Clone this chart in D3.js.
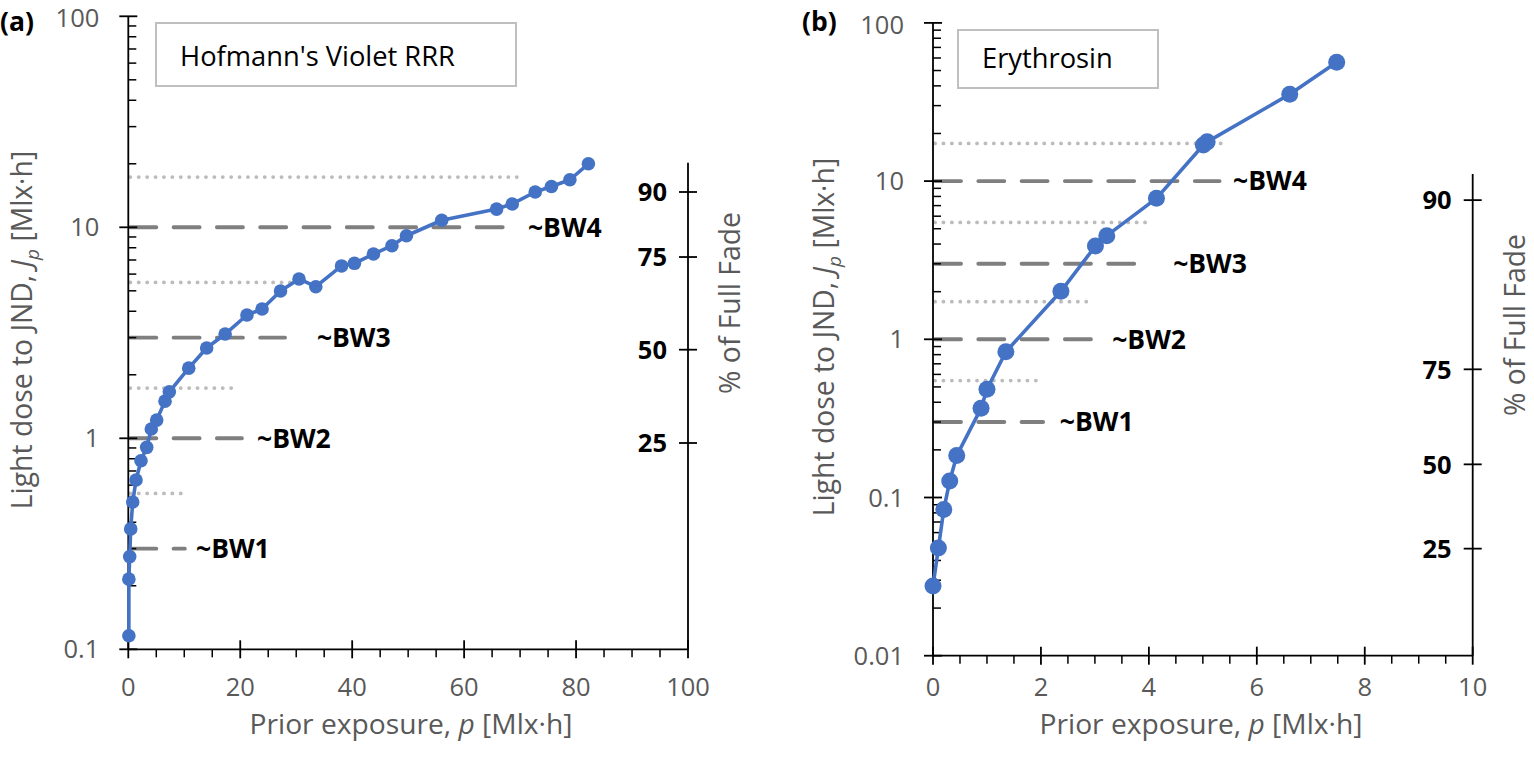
<!DOCTYPE html>
<html><head><meta charset="utf-8">
<script src="https://cdn.jsdelivr.net/npm/d3@7"></script>
<style>
body{margin:0;background:#fff;}
svg{display:block;}
text{font-family:'Open Sans','Noto Sans',sans-serif;}
</style>
</head><body>
<svg id="chart" width="1534" height="767"></svg>
<script>
// ---------- data ----------
const pA = [0.1,0.1,0.25,0.43,0.79,1.38,2.27,3.29,4.11,5.07,6.56,7.33,10.8,14.0,17.3,21.2,23.9,27.2,30.5,33.5,38.1,40.4,43.8,47.1,49.7,56.0,65.8,68.6,72.7,75.6,78.9,82.2];
const jA = [0.116,0.215,0.275,0.372,0.499,0.634,0.783,0.906,1.107,1.22,1.50,1.66,2.15,2.68,3.12,3.84,4.10,4.99,5.69,5.23,6.56,6.75,7.47,8.18,9.12,10.8,12.2,12.9,14.7,15.6,16.8,20.0];
const pB = [0.0,0.1,0.2,0.31,0.44,0.89,1.0,1.35,2.37,3.01,3.22,4.14,5.01,5.08,6.61,7.48];
const jB = [0.0276,0.048,0.084,0.127,0.184,0.366,0.483,0.835,2.01,3.89,4.52,7.78,16.9,17.7,35.4,56.4];

const bwNames = ["~BW1","~BW2","~BW3","~BW4"];
const bwLevels = [0.3,1,3,10];
const midLevels = [0.548,1.73,5.48,17.3];
const bwEndA = [10.1,20.3,28,69.5];
const midEndA = [10.1,19.6,28.9,70];
const bwLabelAtA = [12.1,23,33.7,71.4];
const bwEndB = [2.04,2.95,4.02,5.31];
const midEndB = [1.93,2.91,3.97,5.41];
const bwLabelAtB = [2.35,3.32,4.45,5.56];

const fadeTicks = [25,50,75,90];
const fadeJA = [0.95,2.63,7.23,14.7];
const fadeJB = [0.0475,0.162,0.646,7.58];

const xTicksA = [0,20,40,60,80,100];
const xTicksB = [0,2,4,6,8,10];
const yTicksA = [0.1,1,10,100];
const yTicksB = [0.01,0.1,1,10,100];

const svg = d3.select("#chart");
const GRAY_TXT = "#595959";
const BLUE = "#4472c4";
const X_LABEL_BASE = 695.8;
const X_TITLE_BASE = 733.6;

function drawPanel(cfg){
  const g = svg.append("g");
  const x = d3.scaleLinear().domain(cfg.xDomain).range([cfg.x0, cfg.x1]);
  const y = d3.scaleLog().domain(cfg.yDomain).range([cfg.yBot, cfg.yTop]);

  // dotted mid-level lines
  g.selectAll(".mid").data(cfg.mid).enter().append("line")
    .attr("x1", x(0)+2).attr("x2", (d,i)=>x(cfg.midEnd[i]))
    .attr("y1", d=>y(d)).attr("y2", d=>y(d))
    .attr("stroke","#bcbcbc").attr("stroke-width",3.8)
    .attr("stroke-linecap","round").attr("stroke-dasharray","0.1,8.3");

  // dashed BW lines
  g.selectAll(".bw").data(cfg.bw).enter().append("line")
    .attr("x1", x(0)+2).attr("x2", (d,i)=>x(cfg.bwEnd[i]))
    .attr("y1", d=>y(d)).attr("y2", d=>y(d))
    .attr("stroke","#7f7f7f").attr("stroke-width",3.9)
    .attr("stroke-linecap","round").attr("stroke-dasharray","26,17.3");

  // BW labels
  g.selectAll(".bwl").data(cfg.bw).enter().append("text")
    .attr("x",(d,i)=>x(cfg.bwLabelAt[i])).attr("y",d=>y(d))
    .attr("dy","0.35em").attr("font-size",26.5).attr("font-weight","bold")
    .attr("fill","#000").text((d,i)=>bwNames[i]);

  // left axis
  g.append("line").attr("x1",cfg.x0).attr("x2",cfg.x0)
    .attr("y1",cfg.yTop).attr("y2",cfg.yBot).attr("stroke","#000").attr("stroke-width",1.8);
  const minor = [];
  for(let k=0;k<cfg.yTicks.length-1;k++){
    for(let m=2;m<=9;m++) minor.push(cfg.yTicks[k]*m);
  }
  g.selectAll(".ymin").data(minor).enter().append("line")
    .attr("x1",cfg.x0).attr("x2",cfg.x0+8).attr("y1",d=>y(d)).attr("y2",d=>y(d))
    .attr("stroke","#000").attr("stroke-width",1.5);
  g.selectAll(".ymaj").data(cfg.yTicks).enter().append("line")
    .attr("x1",cfg.x0-9).attr("x2",cfg.x0+9).attr("y1",d=>y(d)).attr("y2",d=>y(d))
    .attr("stroke","#000").attr("stroke-width",1.8);
  g.selectAll(".ylab").data(cfg.yTicks).enter().append("text")
    .attr("x",cfg.x0-29).attr("y",d=>Math.max(y(d),cfg.yTop+2)).attr("dy","0.36em")
    .attr("text-anchor","end").attr("font-size",25.5).attr("fill",GRAY_TXT)
    .text(d=>String(d));

  // bottom axis
  g.append("line").attr("x1",cfg.x0).attr("x2",cfg.x1)
    .attr("y1",cfg.yBot).attr("y2",cfg.yBot).attr("stroke","#000").attr("stroke-width",1.8);
  const xmin = d3.range(cfg.xDomain[0], cfg.xDomain[1]+1e-9, cfg.xMinor)
    .filter(v=>cfg.xTicks.every(t=>Math.abs(t-v)>1e-6));
  g.selectAll(".xmin").data(xmin).enter().append("line")
    .attr("x1",d=>x(d)).attr("x2",d=>x(d)).attr("y1",cfg.yBot).attr("y2",cfg.yBot+8)
    .attr("stroke","#000").attr("stroke-width",1.5);
  g.selectAll(".xmaj").data(cfg.xTicks).enter().append("line")
    .attr("x1",d=>x(d)).attr("x2",d=>x(d)).attr("y1",cfg.yBot-9).attr("y2",cfg.yBot+9)
    .attr("stroke","#000").attr("stroke-width",1.8);
  g.selectAll(".xlab").data(cfg.xTicks).enter().append("text")
    .attr("x",d=>x(d)).attr("y",X_LABEL_BASE).attr("text-anchor","middle")
    .attr("font-size",25.5).attr("fill",GRAY_TXT).text(d=>String(d));

  // right (fade) axis
  g.append("line").attr("x1",cfg.x1).attr("x2",cfg.x1)
    .attr("y1",y(cfg.fadeTop)).attr("y2",cfg.yBot).attr("stroke","#000").attr("stroke-width",1.8);
  g.selectAll(".fmaj").data(cfg.fadeJ).enter().append("line")
    .attr("x1",cfg.x1-9).attr("x2",cfg.x1+9).attr("y1",d=>y(d)).attr("y2",d=>y(d))
    .attr("stroke","#000").attr("stroke-width",1.8);
  g.selectAll(".flab").data(cfg.fadeJ).enter().append("text")
    .attr("x",cfg.x1-21).attr("y",d=>y(d)).attr("dy","0.36em")
    .attr("text-anchor","end").attr("font-size",25.5).attr("font-weight","bold")
    .attr("fill","#000").text((d,i)=>fadeTicks[i]);

  // data line
  g.append("path").datum(cfg.p.map((p,i)=>[p,cfg.j[i]]))
    .attr("fill","none").attr("stroke",BLUE).attr("stroke-width",3.6)
    .attr("stroke-linejoin","round")
    .attr("d", d3.line().x(d=>x(d[0])).y(d=>y(d[1])));
  g.selectAll(".pt").data(cfg.p).enter().append("circle")
    .attr("cx",d=>x(d)).attr("cy",(d,i)=>y(cfg.j[i])).attr("r",cfg.r)
    .attr("fill",BLUE);

  // legend box
  g.append("rect").attr("x",cfg.legend[0]).attr("y",cfg.legend[1])
    .attr("width",cfg.legend[2]).attr("height",cfg.legend[3])
    .attr("fill","#fff").attr("stroke","#bfbfbf").attr("stroke-width",2);
  g.append("text").attr("x",cfg.legend[0]+24).attr("y",cfg.legend[1]+cfg.legend[3]-20)
    .attr("font-size",27.3).attr("fill","#000").text(cfg.name);

  // panel label
  g.append("text").attr("x",cfg.panelX).attr("y",31).attr("font-size",26.5)
    .attr("font-weight","bold").attr("fill","#000").text(cfg.panel);

  // x title
  const xt = g.append("text").attr("x",cfg.xTitleX).attr("y",X_TITLE_BASE)
    .attr("text-anchor","middle").attr("font-size",28.2).attr("fill",GRAY_TXT);
  xt.append("tspan").text("Prior exposure, ");
  xt.append("tspan").attr("font-style","italic").text("p");
  xt.append("tspan").text(" [Mlx·h]");

  // y title
  const yt = g.append("text")
    .attr("transform",`translate(${cfg.yTitleX},${cfg.yTitleY}) rotate(-90)`)
    .attr("text-anchor","middle").attr("font-size",28.3).attr("fill",GRAY_TXT);
  yt.append("tspan").text("Light dose to JND, ");
  yt.append("tspan").attr("font-style","italic").text("J");
  yt.append("tspan").attr("font-style","italic").attr("font-size",19).attr("dy",7).text("p");
  yt.append("tspan").attr("dy",-7).text(" [Mlx·h]");

  // fade title
  g.append("text")
    .attr("transform",`translate(${cfg.fTitleX},${cfg.fTitleY}) rotate(-90)`)
    .attr("text-anchor","middle").attr("font-size",28.3).attr("fill",GRAY_TXT)
    .text("% of Full Fade");
}

drawPanel({
  x0:128.3, x1:688, yTop:16.3, yBot:649.3,
  xDomain:[0,100], yDomain:[0.1,100], xTicks:xTicksA, xMinor:5, yTicks:yTicksA,
  p:pA, j:jA, r:6.8,
  bw:bwLevels, bwEnd:bwEndA, bwLabelAt:bwLabelAtA, mid:midLevels, midEnd:midEndA,
  fadeJ:fadeJA, fadeTop:20.2,
  legend:[156,23,360,63], name:"Hofmann's Violet RRR",
  panel:"(a)", panelX:0, xTitleX:411,
  yTitleX:31.5, yTitleY:330, fTitleX:740, fTitleY:303
});
drawPanel({
  x0:933, x1:1472.7, yTop:22.9, yBot:655.7,
  xDomain:[0,10], yDomain:[0.01,100], xTicks:xTicksB, xMinor:0.5, yTicks:yTicksB,
  p:pB, j:jB, r:8.5,
  bw:bwLevels, bwEnd:bwEndB, bwLabelAt:bwLabelAtB, mid:midLevels, midEnd:midEndB,
  fadeJ:fadeJB, fadeTop:11.1,
  legend:[958,30,200,58], name:"Erythrosin",
  panel:"(b)", panelX:802, xTitleX:1201,
  yTitleX:834, yTitleY:337, fTitleX:1524.5, fTitleY:325
});
</script>
</body></html>
